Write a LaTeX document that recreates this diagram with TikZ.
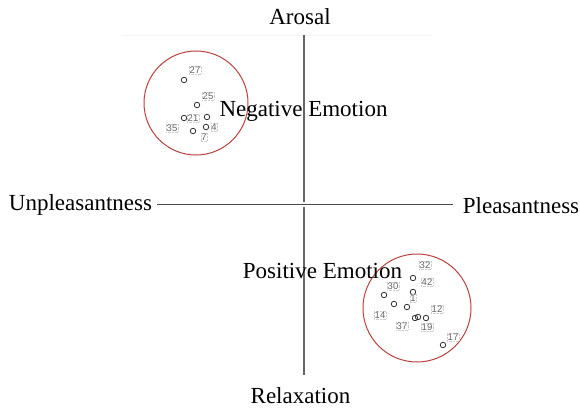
\documentclass[tikz,border=0pt]{standalone}
\usepackage{fontspec}
\setmainfont{Liberation Serif}
\newfontfamily\numfont{Liberation Sans}
\begin{document}
\begin{tikzpicture}[x=1pt,y=-1pt,
  axislabel/.style={font=\fontsize{23}{25}\selectfont, inner sep=0pt, anchor=base},
  axisline/.style={draw=black!70, line width=1.4pt},
  ring/.style={draw=red!65!black!75, line width=1pt},
  dot/.style={circle, draw=black!80, line width=0.8pt, minimum size=5.5pt, inner sep=0pt},
  num/.style={font=\numfont\fontsize{9.5}{10}\selectfont, text=black!60, inner sep=0.6pt, draw=black!20, densely dotted}
]
\useasboundingbox (0,0) rectangle (580,409);
\fill[white] (0,0) rectangle (580,409);
\draw[black!4, line width=0.8pt] (122,35) -- (432,35);

% axis labels
\node[axislabel] (aro) at (300,25) {Arosal};
\node[axislabel] (rel) at (300.5,403) {Relaxation};
\node[axislabel] (unp) at (80.5,210) {Unpleasantness};
\node[axislabel] (ple) at (521,213) {Pleasantness};

\coordinate (vtop) at (304,35);
\coordinate (vbot) at (304,375);
\coordinate (hl) at (157,204.5);
\coordinate (hr) at (453,204.5);
\draw[axisline, draw=black!60] (vtop) -- (vbot);
\draw[white, line width=5.5pt] (hl) -- (hr);
\draw[axisline] (hl) -- (hr);

% clusters
\node[ring, circle, minimum size=104pt, inner sep=0pt] (neg) at (196,103) {};
\node[ring, circle, minimum size=108pt, inner sep=0pt] (pos) at (417,308) {};

% negative cluster points
\node[dot] (n27) at (184,80) {};
\node[num] (l27) at (195,70) {27};
\node[dot] (n25) at (197,105) {};
\node[num] (l25) at (208,96) {25};
\node[dot] (n21) at (184,118) {};
\node[num] (l21) at (193,118) {21};
\node[dot] (nx) at (207,117) {};
\node[dot] (n4) at (206,127) {};
\node[num] (l4) at (214,127) {4};
\node[dot] (n35) at (193,131) {};
\node[num] (l35) at (172,128) {35};
\node[num] (l7) at (204,137) {7};

% positive cluster points
\node[num] (l32) at (425,265) {32};
\node[dot] (p42) at (413,278) {};
\node[num] (l42) at (427,282) {42};
\node[num] (l30) at (393,286) {30};
\node[dot] (p30) at (384,295) {};
\node[dot] (p1) at (413,292) {};
\node[num] (l1) at (413,298) {1};
\node[dot] (p14) at (394,304) {};
\node[num] (l14) at (380,315) {14};
\node[dot] (px) at (407,307) {};
\node[num] (l12) at (437,309) {12};
\node[dot] (p12) at (426,318) {};
\node[dot] (p37) at (415,318) {};
\node[dot] (p19) at (418,317) {};
\node[num] (l37) at (402,326) {37};
\node[num] (l19) at (427,327) {19};
\node[num] (l17) at (453,337) {17};
\node[dot] (p17) at (443,345) {};

% cluster titles
\node[axislabel] (negt) at (303.5,117) {Negative Emotion};
\node[axislabel] (post) at (322.5,278) {Positive Emotion};
\end{tikzpicture}
\end{document}
